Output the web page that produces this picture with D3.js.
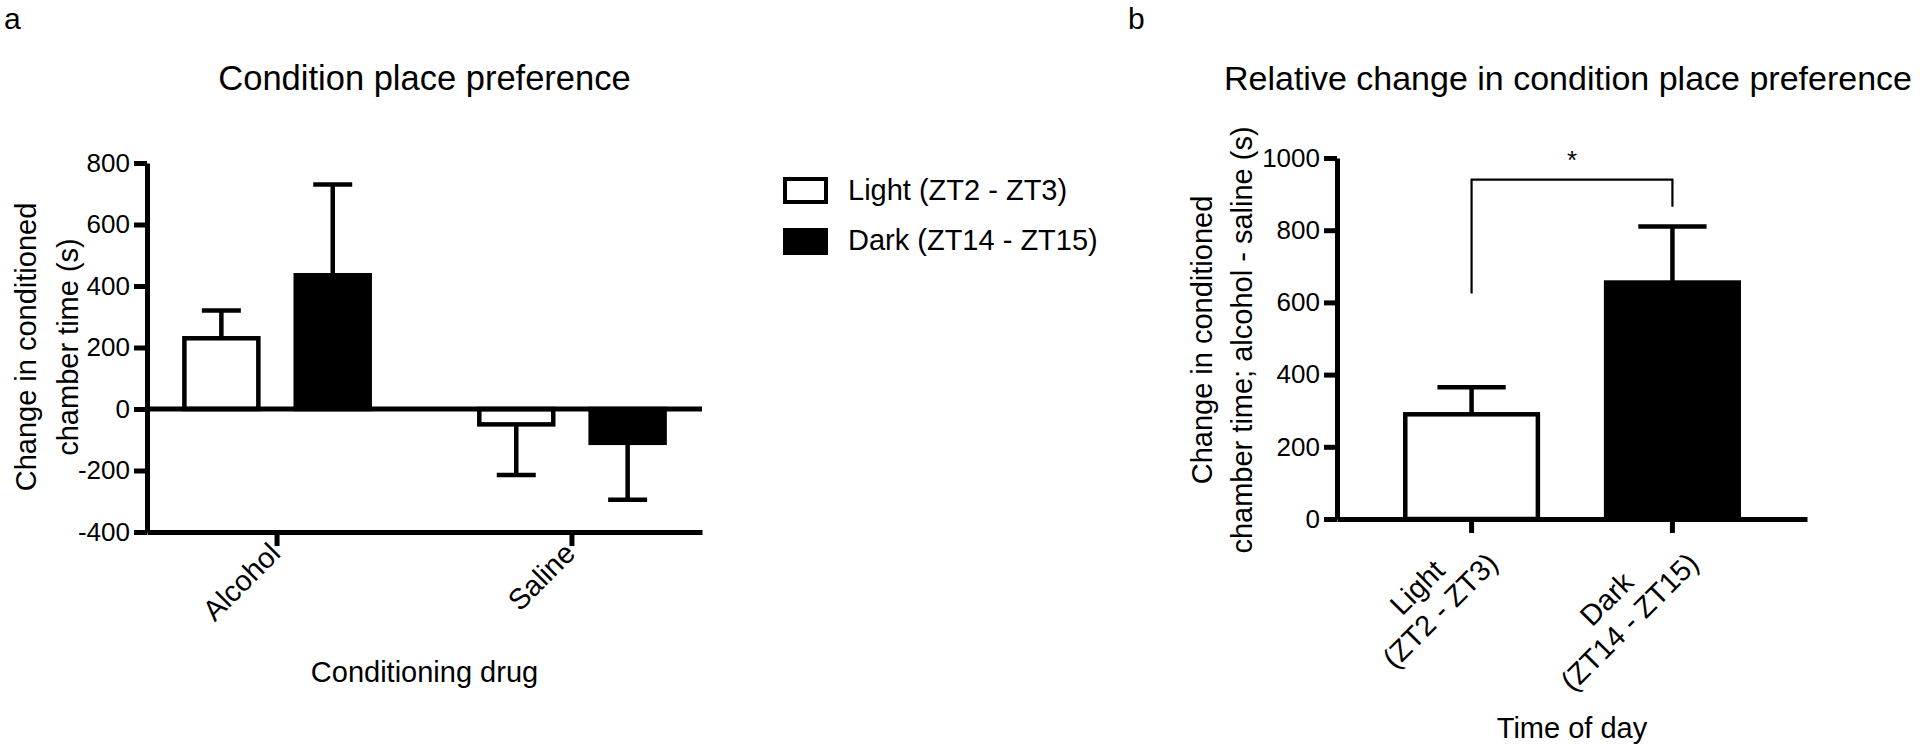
<!DOCTYPE html>
<html>
<head>
<meta charset="utf-8">
<script src="https://cdnjs.cloudflare.com/ajax/libs/d3/7.8.5/d3.min.js"></script>
<style>
  body { margin: 0; background: #fff; }
  svg { font-family: "Liberation Sans", Arial, Helvetica, sans-serif; }
</style>
</head>
<body>
<div id="chart"></div>
<script>
// panel a : change in conditioned chamber time
var drugs = ["Alcohol", "Saline"];
var phases = ["Light (ZT2 - ZT3)", "Dark (ZT14 - ZT15)"];
var lightMeans = [230, -50];
var lightSem = [90, 165];
var darkMeans = [435, -110];
var darkSem = [295, 185];
var ticksA = [-400, -200, 0, 200, 400, 600, 800];

// panel b : alcohol - saline
var timeLabels = [["Light", "(ZT2 - ZT3)"], ["Dark", "(ZT14 - ZT15)"]];
var relMeans = [290, 655];
var relSem = [75, 155];
var ticksB = [0, 200, 400, 600, 800, 1000];
var sigBracket = [940, 625, 865];   // bracket level, left leg end, right leg end
var sigLabel = "*";

var fills = ["#fff", "#000"];

var svg = d3.select("#chart")
    .append("svg")
        .attr("width", 1920)
        .attr("height", 750);

/* helpers */
var plainNum = function(d) { return String(d); };   // hyphen minus, no thousands comma

var styleAxis = function(g, width) {
    g.select(".domain")
        .attr("stroke", "#000")
        .attr("stroke-width", width);
    g.selectAll(".tick line")
        .attr("stroke", "#000")
        .attr("stroke-width", width);
    g.selectAll(".tick text")
        .attr("fill", "#000")
        .style("font-size", "26px");
};

var drawBar = function(g, x, w, y, v, sem, fill) {
    var y0 = y(0), y1 = y(v);
    var dir = v >= 0 ? 1 : -1;
    var cx = x + w / 2;
    // error bar (one sided, away from zero)
    g.append("line")
        .attr("x1", cx).attr("x2", cx)
        .attr("y1", y1).attr("y2", y(v + dir * sem))
        .attr("stroke", "#000")
        .attr("stroke-width", 4.5);
    g.append("line")
        .attr("x1", cx - w / 4).attr("x2", cx + w / 4)
        .attr("y1", y(v + dir * sem)).attr("y2", y(v + dir * sem))
        .attr("stroke", "#000")
        .attr("stroke-width", 4.5);
    g.append("rect")
        .attr("x", x + 2)
        .attr("y", Math.min(y0, y1))
        .attr("width", w - 4)
        .attr("height", Math.abs(y1 - y0))
        .attr("fill", fill)
        .attr("stroke", "#000")
        .attr("stroke-width", 4.5);
};

var tickLabels = function(g, x, lines, yTop) {
    x.domain().forEach(function(d, i) {
        var t = g.append("g")
            .attr("transform", "translate(" + (x(d) + x.bandwidth() / 2) + "," + yTop + ") rotate(-45)");
        var texts = lines[i].map(function(s, j) {
            return t.append("text")
                .attr("y", 10 + j * 32.5)
                .attr("text-anchor", "middle")
                .attr("fill", "#000")
                .style("font-size", "29px")
                .text(s);
        });
        var maxW = d3.max(texts, function(s) { return s.node().getComputedTextLength(); });
        texts.forEach(function(s) { s.attr("x", -maxW / 2 - 3); });
    });
};

var yTitle = function(lines, xs, cy) {
    lines.forEach(function(s, i) {
        svg.append("text")
            .attr("transform", "translate(" + xs[i] + "," + cy + ") rotate(-90)")
            .attr("text-anchor", "middle")
            .attr("fill", "#000")
            .style("font-size", "29px")
            .text(s);
    });
};

/* ---------- panel a ---------- */
var xA = d3.scaleBand()
    .domain(drugs)
    .range([147, 702])
    .paddingInner(0.358)
    .paddingOuter(0.12);

var xInner = d3.scaleBand()
    .domain(phases)
    .range([0, xA.bandwidth()])
    .paddingInner(0.3)
    .paddingOuter(0);

var yA = d3.scaleLinear()
    .domain([-400, 800])
    .range([532, 163]);

var gA = svg.append("g");

drugs.forEach(function(d, i) {
    drawBar(gA, xA(d) + xInner(phases[0]), xInner.bandwidth(), yA, lightMeans[i], lightSem[i], fills[0]);
    drawBar(gA, xA(d) + xInner(phases[1]), xInner.bandwidth(), yA, darkMeans[i], darkSem[i], fills[1]);
});

// zero line
gA.append("line")
    .attr("x1", xA.range()[0]).attr("x2", xA.range()[1])
    .attr("y1", yA(0)).attr("y2", yA(0))
    .attr("stroke", "#000")
    .attr("stroke-width", 5);

gA.append("g")
    .attr("transform", "translate(147,0)")
    .call(d3.axisLeft(yA).tickValues(ticksA).tickFormat(plainNum).tickSize(13).tickSizeOuter(0).tickPadding(4))
    .call(styleAxis, 5);

gA.append("g")
    .attr("transform", "translate(0," + yA(-400) + ")")
    .call(d3.axisBottom(xA).tickSize(14).tickSizeOuter(0).tickFormat(""))
    .call(styleAxis, 5);

tickLabels(gA, xA, drugs.map(function(d) { return [d]; }), yA(-400) + 14);

svg.append("text")
    .attr("x", 424.5).attr("y", 90)
    .attr("text-anchor", "middle")
    .style("font-size", "34.5px")
    .text("Condition place preference");

svg.append("text")
    .attr("x", 424.5).attr("y", 682)
    .attr("text-anchor", "middle")
    .style("font-size", "29px")
    .text("Conditioning drug");

yTitle(["Change in conditioned", "chamber time (s)"], [36, 78], 347);

svg.append("text")
    .attr("x", 4).attr("y", 29)
    .style("font-size", "30px")
    .text("a");

// legend
var legend = svg.append("g")
    .attr("transform", "translate(783,177)");

phases.forEach(function(p, i) {
    legend.append("rect")
        .attr("x", 2).attr("y", i * 51 + 2)
        .attr("width", 41).attr("height", 23)
        .attr("fill", fills[i])
        .attr("stroke", "#000")
        .attr("stroke-width", 4);
    legend.append("text")
        .attr("x", 65).attr("y", i * 50 + 23)
        .attr("fill", "#000")
        .style("font-size", "29px")
        .text(p);
});

/* ---------- panel b ---------- */
var xB = d3.scaleBand()
    .domain(["Light", "Dark"])
    .range([1337, 1807])
    .paddingInner(0.32)
    .paddingOuter(0.33);

var yB = d3.scaleLinear()
    .domain([0, 1000])
    .range([519, 158]);

var gB = svg.append("g");

xB.domain().forEach(function(d, i) {
    drawBar(gB, xB(d), xB.bandwidth(), yB, relMeans[i], relSem[i], fills[i]);
});

gB.append("g")
    .attr("transform", "translate(1337,0)")
    .call(d3.axisLeft(yB).tickValues(ticksB).tickFormat(plainNum).tickSize(13).tickSizeOuter(0).tickPadding(4))
    .call(styleAxis, 5);

gB.append("g")
    .attr("transform", "translate(0," + yB(0) + ")")
    .call(d3.axisBottom(xB).tickSize(14).tickSizeOuter(0).tickFormat(""))
    .call(styleAxis, 5);

tickLabels(gB, xB, timeLabels, yB(0) + 14);

// significance bracket
var bx1 = xB("Light") + xB.bandwidth() / 2,
    bx2 = xB("Dark") + xB.bandwidth() / 2;
gB.append("path")
    .attr("d", d3.line()([[bx1, yB(sigBracket[1])], [bx1, yB(sigBracket[0])], [bx2, yB(sigBracket[0])], [bx2, yB(sigBracket[2])]]))
    .attr("fill", "none")
    .attr("stroke", "#000")
    .attr("stroke-width", 2.2);
gB.append("text")
    .attr("x", (bx1 + bx2) / 2).attr("y", yB(sigBracket[0]) - 11)
    .attr("text-anchor", "middle")
    .style("font-size", "26px")
    .text(sigLabel);

svg.append("text")
    .attr("x", 1568).attr("y", 90)
    .attr("text-anchor", "middle")
    .style("font-size", "34px")
    .text("Relative change in condition place preference");

svg.append("text")
    .attr("x", 1572).attr("y", 738)
    .attr("text-anchor", "middle")
    .style("font-size", "29px")
    .text("Time of day");

yTitle(["Change in conditioned", "chamber time; alcohol - saline (s)"], [1212, 1252], 340);

svg.append("text")
    .attr("x", 1128).attr("y", 29)
    .style("font-size", "30px")
    .text("b");
</script>
</body>
</html>
